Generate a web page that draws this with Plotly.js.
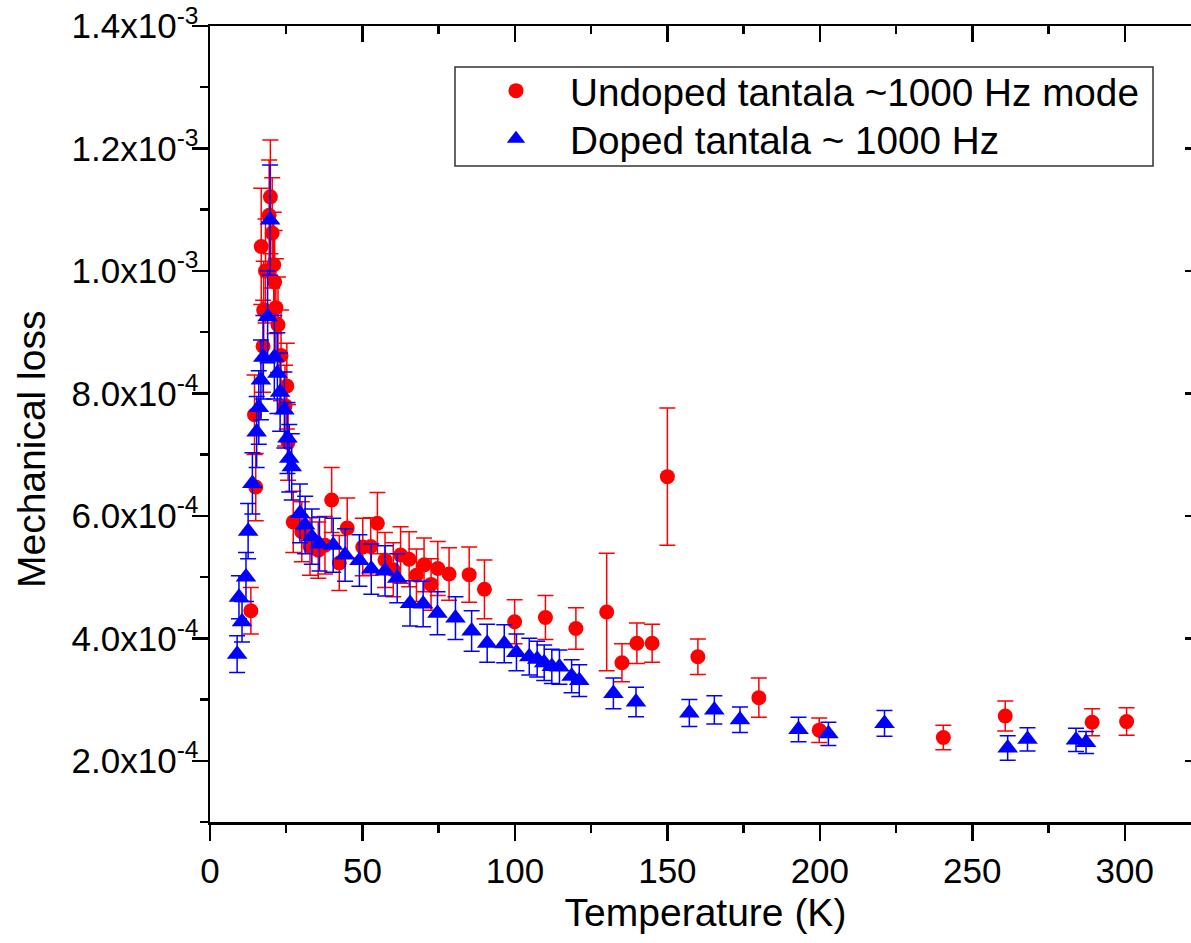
<!DOCTYPE html>
<html>
<head>
<meta charset="utf-8">
<script src="https://cdn.plot.ly/plotly-3.0.1.min.js"></script>
<style>
html, body { margin: 0; padding: 0; overflow: hidden; background: #fff; }
#chart { width: 1210px; height: 943px; }
</style>
</head>
<body>
<div id="chart"></div>
<script>
// ---- Data ----
const undopedName = "Undoped tantala ~1000 Hz mode";
const undopedT = [13.4, 14.6, 15.0, 16.8, 17.4, 17.6, 18.2, 19.4, 19.8, 20.4, 20.9, 21.2, 21.6, 22.3, 23.3, 24.6, 25.2, 25.6,
  27.3, 30.1, 32.8, 35.5, 37.7, 39.9, 42.4, 45.0, 50.1, 52.7, 54.9, 57.4, 60.1, 62.5, 65.3, 67.7, 70.2, 72.5, 74.7, 78.4,
  85.0, 90.0, 99.9, 110.0, 120.0, 130.1, 135.1, 140.0, 145.0, 150.0, 160.0, 180.0, 199.8, 240.5, 260.8, 289.3, 300.6];
const undopedLoss = [4.45e-4, 7.65e-4, 6.47e-4, 1.040e-3, 8.77e-4, 9.36e-4, 1.000e-3, 1.091e-3, 1.121e-3, 1.062e-3, 1.010e-3, 9.82e-4, 9.40e-4, 9.12e-4, 8.62e-4, 7.80e-4, 8.12e-4, 7.20e-4,
  5.90e-4, 5.74e-4, 5.50e-4, 5.44e-4, 5.52e-4, 6.26e-4, 5.23e-4, 5.80e-4, 5.49e-4, 5.50e-4, 5.88e-4, 5.28e-4, 5.12e-4, 5.36e-4, 5.29e-4, 5.03e-4, 5.20e-4, 4.88e-4, 5.14e-4, 5.05e-4,
  5.04e-4, 4.80e-4, 4.27e-4, 4.34e-4, 4.16e-4, 4.43e-4, 3.60e-4, 3.92e-4, 3.92e-4, 6.64e-4, 3.70e-4, 3.03e-4, 2.50e-4, 2.38e-4, 2.73e-4, 2.63e-4, 2.64e-4];
const undopedErr = [0.38e-4, 0.65e-4, 0.55e-4, 0.95e-4, 0.75e-4, 0.80e-4, 0.85e-4, 0.90e-4, 0.93e-4, 0.90e-4, 0.86e-4, 0.84e-4, 0.80e-4, 0.78e-4, 0.74e-4, 0.66e-4, 0.70e-4, 0.62e-4,
  0.50e-4, 0.49e-4, 0.47e-4, 0.46e-4, 0.47e-4, 0.53e-4, 0.45e-4, 0.49e-4, 0.47e-4, 0.47e-4, 0.50e-4, 0.45e-4, 0.44e-4, 0.46e-4, 0.45e-4, 0.43e-4, 0.44e-4, 0.42e-4, 0.44e-4, 0.43e-4,
  0.45e-4, 0.48e-4, 0.36e-4, 0.36e-4, 0.34e-4, 0.96e-4, 0.31e-4, 0.33e-4, 0.31e-4, 1.12e-4, 0.29e-4, 0.32e-4, 0.20e-4, 0.20e-4, 0.245e-4, 0.22e-4, 0.225e-4];

const dopedName = "Doped tantala ~ 1000 Hz";
const dopedT = [8.9, 9.5, 10.5, 11.8, 12.5, 13.9, 15.3, 16.0, 16.7, 17.5, 18.9, 19.7, 21.1, 22.1, 23.0, 24.4, 25.4, 26.0, 26.8,
  29.5, 31.2, 33.4, 35.9, 40.4, 44.3, 49.0, 52.9, 57.4, 61.4, 65.6, 69.9, 74.6, 80.5, 85.8, 90.9, 96.5, 100.5, 104.7, 107.3,
  109.6, 112.1, 114.6, 118.6, 121.1, 132.3, 139.7, 157.2, 165.4, 173.8, 193.0, 202.8, 221.2, 261.6, 268.1, 284.0, 287.3];
const dopedLoss = [3.74e-4, 4.67e-4, 4.27e-4, 5.00e-4, 5.75e-4, 6.53e-4, 7.37e-4, 7.77e-4, 8.22e-4, 8.59e-4, 9.25e-4, 1.083e-3, 8.59e-4, 8.33e-4, 8.02e-4, 7.73e-4, 7.27e-4, 6.94e-4, 6.80e-4,
  6.04e-4, 5.85e-4, 5.66e-4, 5.54e-4, 5.52e-4, 5.36e-4, 5.27e-4, 5.13e-4, 5.10e-4, 4.98e-4, 4.57e-4, 4.56e-4, 4.41e-4, 4.33e-4, 4.12e-4, 3.92e-4, 3.91e-4, 3.77e-4, 3.70e-4, 3.66e-4,
  3.60e-4, 3.54e-4, 3.53e-4, 3.38e-4, 3.31e-4, 3.10e-4, 2.96e-4, 2.78e-4, 2.83e-4, 2.67e-4, 2.51e-4, 2.44e-4, 2.61e-4, 2.21e-4, 2.35e-4, 2.34e-4, 2.30e-4];
const dopedErr = [0.30e-4, 0.35e-4, 0.33e-4, 0.40e-4, 0.45e-4, 0.50e-4, 0.58e-4, 0.60e-4, 0.65e-4, 0.68e-4, 0.75e-4, 0.90e-4, 0.68e-4, 0.66e-4, 0.64e-4, 0.62e-4, 0.58e-4, 0.55e-4, 0.54e-4,
  0.48e-4, 0.47e-4, 0.45e-4, 0.44e-4, 0.44e-4, 0.43e-4, 0.42e-4, 0.41e-4, 0.41e-4, 0.40e-4, 0.37e-4, 0.37e-4, 0.35e-4, 0.35e-4, 0.33e-4, 0.31e-4, 0.31e-4, 0.30e-4, 0.30e-4, 0.29e-4,
  0.29e-4, 0.28e-4, 0.28e-4, 0.27e-4, 0.26e-4, 0.25e-4, 0.24e-4, 0.22e-4, 0.23e-4, 0.21e-4, 0.20e-4, 0.19e-4, 0.21e-4, 0.20e-4, 0.19e-4, 0.19e-4, 0.18e-4];

const xTickVals = [0, 50, 100, 150, 200, 250, 300];
const xMinorVals = [25, 75, 125, 175, 225, 275, 325];
const yTickVals = [2e-4, 4e-4, 6e-4, 8e-4, 1.0e-3, 1.2e-3, 1.4e-3];
const yTickText = ["2.0x10<sup>-4</sup>", "4.0x10<sup>-4</sup>", "6.0x10<sup>-4</sup>", "8.0x10<sup>-4</sup>",
  "1.0x10<sup>-3</sup>", "1.2x10<sup>-3</sup>", "1.4x10<sup>-3</sup>"];
const yMinorVals = [1e-4, 3e-4, 5e-4, 7e-4, 9e-4, 1.1e-3, 1.3e-3];
const xTitle = "Temperature (K)";
const yTitle = "Mechanical loss";

// ---- Chart ----
const FONT = "Liberation Sans, Arial, Helvetica, sans-serif";
const xRange = [0, 325];
const yRange = [1e-4, 1.4e-3];
const TICKFONT = { family: FONT, size: 35, color: "#000" };

const traces = [
  {
    type: "scatter", mode: "markers", name: undopedName, legend: "legend",
    x: undopedT, y: undopedLoss,
    marker: { symbol: "circle", size: 15, color: "#ff0000", line: { width: 0 } },
    error_y: { type: "data", array: undopedErr, visible: true, color: "#ff0000", thickness: 1.5, width: 8 }
  },
  {
    type: "scatter", mode: "markers", name: dopedName, legend: "legend2",
    x: dopedT, y: dopedLoss,
    marker: { symbol: "triangle-up", size: 18, color: "#0000ff", line: { width: 0 } },
    error_y: { type: "data", array: dopedErr, visible: true, color: "#0000ff", thickness: 1.5, width: 8 }
  },
  { type: "scatter", mode: "markers", x: [], y: [], xaxis: "x2", yaxis: "y2", showlegend: false, hoverinfo: "skip" }
];

const axisCommon = {
  showgrid: false, zeroline: false, showline: true, linecolor: "#000", linewidth: 2.5,
  tickcolor: "#000", tickwidth: 2.5, automargin: false
};

const legendCommon = {
  xanchor: "left", yanchor: "middle",
  bgcolor: "rgba(0,0,0,0)", borderwidth: 0,
  font: { family: FONT, size: 38.7, color: "#000" },
  itemwidth: 98
};

const layout = {
  width: 1210, height: 943,
  margin: { l: 210, r: 9, t: 26, b: 121, pad: 0 },
  paper_bgcolor: "#fff", plot_bgcolor: "#fff",
  font: { family: FONT, color: "#000" },
  showlegend: true,
  xaxis: Object.assign({}, axisCommon, {
    range: xRange, tickmode: "array", tickvals: xTickVals,
    ticks: "outside", ticklen: 16,
    minor: { tickmode: "array", tickvals: xMinorVals, ticks: "outside", ticklen: 8, tickwidth: 2.5, tickcolor: "#000", showgrid: false },
    tickfont: TICKFONT,
    title: { text: xTitle, font: { family: FONT, size: 39, color: "#000" }, standoff: 10 }
  }),
  yaxis: Object.assign({}, axisCommon, {
    range: yRange, tickmode: "array", tickvals: yTickVals, ticktext: yTickText,
    ticks: "outside", ticklen: 16, ticklabelstandoff: -14,
    minor: { tickmode: "array", tickvals: yMinorVals, ticks: "outside", ticklen: 8, tickwidth: 2.5, tickcolor: "#000", showgrid: false },
    tickfont: TICKFONT
  }),
  xaxis2: Object.assign({}, axisCommon, {
    overlaying: "x", anchor: "y", side: "top", range: xRange,
    tickmode: "array", tickvals: xTickVals, ticks: "inside", ticklen: 16, showticklabels: false,
    minor: { tickmode: "array", tickvals: xMinorVals, ticks: "inside", ticklen: 8, tickwidth: 2.5, tickcolor: "#000", showgrid: false }
  }),
  yaxis2: Object.assign({}, axisCommon, {
    overlaying: "y", anchor: "x", side: "right", range: yRange,
    tickmode: "array", tickvals: yTickVals, ticks: "inside", ticklen: 16, showticklabels: false,
    minor: { tickmode: "array", tickvals: yMinorVals, ticks: "inside", ticklen: 8, tickwidth: 2.5, tickcolor: "#000", showgrid: false }
  }),
  legend: Object.assign({}, legendCommon, { x: (462 - 210) / 991, y: (822 - 91) / 796 }),
  legend2: Object.assign({}, legendCommon, { x: (462 - 210) / 991, y: (822 - 139) / 796 }),
  shapes: [
    { type: "rect", xref: "paper", yref: "paper", layer: "below",
      x0: (455 - 210) / 991, x1: (1153 - 210) / 991, y0: (822 - 166) / 796, y1: (822 - 67) / 796,
      line: { color: "#333", width: 1.5 }, fillcolor: "#fff" }
  ],
  annotations: [
    { text: yTitle, xref: "paper", yref: "paper", x: (31 - 210) / 991, y: (822 - 450) / 796,
      xanchor: "center", yanchor: "middle", textangle: -90, showarrow: false,
      font: { family: FONT, size: 39, color: "#000" } }
  ]
};

Plotly.newPlot("chart", traces, layout, { staticPlot: true, displayModeBar: false });
</script>
</body>
</html>
